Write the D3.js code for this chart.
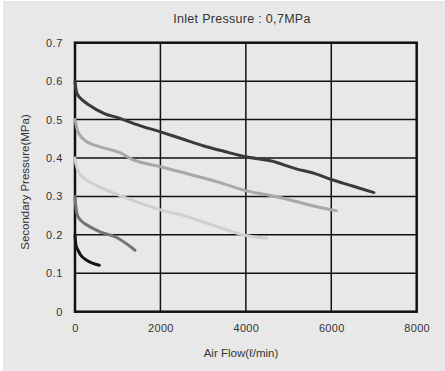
<!DOCTYPE html>
<html><head><meta charset="utf-8">
<script src="https://cdn.jsdelivr.net/npm/d3@7"></script>
<style>
html,body{margin:0;padding:0;background:#fff;}
svg{display:block;}
text{font-family:"Liberation Sans",Arial,sans-serif;fill:#333;}
</style></head>
<body>
<script>
const title = "Inlet Pressure : 0,7MPa";
const xTitle = "Air Flow(ℓ/min)";
const yTitle = "Secondary Pressure(MPa)";
const xTicks = [0, 2000, 4000, 6000, 8000];
const yTicks = [0, 0.1, 0.2, 0.3, 0.4, 0.5, 0.6, 0.7];
const seriesNames = ["0.6", "0.5", "0.4", "0.3", "0.2"];
const seriesColors = ["#3a3a3a", "#a8a8a8", "#cfcfcf", "#747474", "#151515"];
const flow06 = [0, 15, 40, 90, 300, 700, 1000, 1500, 2000, 2500, 3000, 3500, 4000, 4600, 5000, 5200, 5600, 6000, 6500, 7000];
const pres06 = [0.6, 0.585, 0.57, 0.56, 0.54, 0.515, 0.505, 0.485, 0.468, 0.45, 0.432, 0.417, 0.403, 0.392, 0.378, 0.371, 0.36, 0.344, 0.327, 0.31];
const flow05 = [0, 20, 80, 273, 585, 1054, 1360, 2000, 2700, 3395, 4000, 4723, 5200, 5660, 6115];
const pres05 = [0.5, 0.49, 0.465, 0.442, 0.429, 0.414, 0.395, 0.377, 0.357, 0.336, 0.315, 0.299, 0.286, 0.273, 0.263];
const flow04 = [0, 20, 80, 195, 585, 1054, 2000, 2615, 2927, 3395, 3941, 4490];
const pres04 = [0.4, 0.385, 0.365, 0.348, 0.324, 0.302, 0.265, 0.248, 0.236, 0.219, 0.2, 0.191];
const flow03 = [0, 15, 40, 78, 150, 273, 585, 976, 1405];
const pres03 = [0.3, 0.28, 0.258, 0.246, 0.236, 0.226, 0.208, 0.193, 0.16];
const flow02 = [0, 10, 30, 80, 150, 273, 420, 570];
const pres02 = [0.2, 0.185, 0.17, 0.158, 0.145, 0.134, 0.126, 0.121];
const flows = [flow06, flow05, flow04, flow03, flow02];
const pressures = [pres06, pres05, pres04, pres03, pres02];

const W = 445, H = 371;
const svg = d3.select("body").append("svg").attr("width", W).attr("height", H);
svg.append("rect").attr("x", 3).attr("y", 1).attr("width", W - 3).attr("height", H - 1).attr("fill", "#e8e8e8");

const x = d3.scaleLinear().domain([0, 8000]).range([75, 416.7]);
const y = d3.scaleLinear().domain([0, 0.7]).range([311.7, 42.7]);

const g = svg.append("g");
g.selectAll(".vg").data(xTicks.slice(1, -1)).join("line")
  .attr("x1", d => x(d)).attr("x2", d => x(d)).attr("y1", y(0)).attr("y2", y(0.7))
  .attr("stroke", "#111").attr("stroke-width", 1.5);
g.selectAll(".hg").data(yTicks.slice(1, -1)).join("line")
  .attr("y1", d => y(d)).attr("y2", d => y(d)).attr("x1", x(0)).attr("x2", x(8000))
  .attr("stroke", "#111").attr("stroke-width", 1.5);
g.append("rect").attr("x", x(0)).attr("y", y(0.7)).attr("width", x(8000) - x(0)).attr("height", y(0) - y(0.7))
  .attr("fill", "none").attr("stroke", "#111").attr("stroke-width", 2.5);

const xAxis = svg.append("g").attr("transform", `translate(0,${y(0)})`)
  .call(d3.axisBottom(x).tickValues(xTicks).tickSize(0).tickPadding(13).tickFormat(d3.format("d")));
xAxis.select(".domain").remove();
xAxis.selectAll("text").attr("font-size", 11).style("fill", "#333").style("letter-spacing", "0.3px").style("font-family", "Liberation Sans, Arial, sans-serif");
const yAxis = svg.append("g").attr("transform", `translate(${x(0)},0)`)
  .call(d3.axisLeft(y).tickValues(yTicks).tickSize(0).tickPadding(12).tickFormat(d => d === 0 ? "0" : d3.format(".1f")(d)));
yAxis.select(".domain").remove();
yAxis.selectAll("text").attr("font-size", 11).style("fill", "#333").style("letter-spacing", "0.6px").style("font-family", "Liberation Sans, Arial, sans-serif");

const line = d3.line().x(d => x(d[0])).y(d => y(d[1])).curve(d3.curveCatmullRom.alpha(0.5));
seriesNames.forEach((name, i) => {
  const pts = flows[i].map((f, j) => [f, pressures[i][j]]);
  svg.append("path").datum(pts).attr("d", line).attr("fill", "none")
    .attr("stroke", seriesColors[i]).attr("stroke-width", 3).attr("stroke-linecap", "round").attr("stroke-linejoin", "round");
});

svg.append("text").attr("x", 242).attr("y", 23).attr("text-anchor", "middle").attr("font-size", 12.5).style("letter-spacing", "0.3px").text(title);
svg.append("text").attr("x", 241).attr("y", 357).attr("text-anchor", "middle").attr("font-size", 11.5).text(xTitle);
svg.append("text").attr("transform", "translate(29,182) rotate(-90)").attr("text-anchor", "middle").attr("font-size", 11.5).text(yTitle);
</script>
</body></html>
